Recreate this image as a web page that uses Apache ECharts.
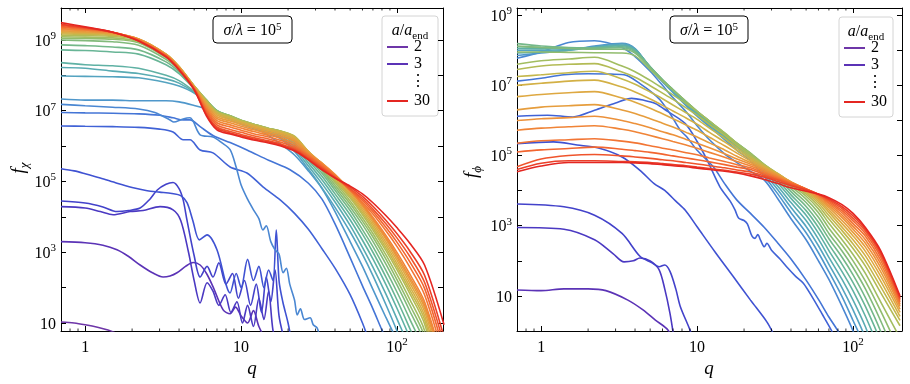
<!DOCTYPE html>
<html>
<head>
<meta charset="utf-8">
<script src="https://cdn.jsdelivr.net/npm/echarts@6/dist/echarts.min.js"></script>
<style>
html, body { margin: 0; padding: 0; background: #fff; }
#chart { width: 910px; height: 384px; }
</style>
</head>
<body>
<div id="chart"></div>
<script>
// shared q grid for the smooth curves
const qGrid = [0.7, 1, 1.5, 2.2, 3.3, 4, 5, 6, 7, 8.5, 10, 12, 15, 18, 22, 27, 33, 40, 50, 60, 70, 85, 100, 120, 150, 200];

// left panel, log10 f_chi. early times as [q, log10 f] pairs
const chi2 = [[0.7,1.03],[0.85,1.0],[1,0.95],[1.2,0.88],[1.4,0.8],[1.6,0.7],[1.8,0.55]];
const chi3 = [[0.7,3.3],[1,3.27],[1.3,3.2],[1.6,3.07],[1.9,2.88],[2.25,2.64],[2.7,2.42],[3.16,2.3],[3.5,2.33],[3.88,2.42],[4.4,2.6],[4.93,2.71],[5.46,2.64],[6,2.4],[6.6,2.03],[7.67,1.37],[8.5,1.26],[9.2,1.45],[10,1.2],[11,1.0],[12,1.35],[13,0.9],[14.5,0.5]];
const chi4 = [[0.7,4.29],[1,4.25],[1.25,4.15],[1.51,4.06],[1.94,4.15],[2.35,4.18],[3.02,4.29],[3.66,4.2],[4.1,3.9],[4.6,3.0],[5.0,2.2],[5.46,1.57],[6.05,2.14],[6.6,1.9],[7.2,1.5],[7.9,1.8],[8.6,1.3],[9.4,1.6],[10.2,1.0],[11,1.5],[12,0.9],[13,1.7],[14,1.1],[15,1.9],[16,0.8],[17,0.5]];
const chi5 = [[0.7,4.45],[1,4.39],[1.3,4.28],[1.6,4.15],[1.9,4.18],[2.25,4.25],[2.6,4.5],[2.9,4.76],[3.3,4.92],[3.66,4.97],[4.0,4.8],[4.25,4.48],[4.5,3.9],[5.0,2.9],[5.46,2.3],[6.05,2.6],[6.6,2.3],[7.2,2.7],[8,2.1],[8.8,2.4],[9.6,1.7],[10.5,2.2],[11.5,1.5],[12.5,2.1],[13.5,1.3],[14.5,2.3],[15.5,1.6],[16.5,2.5],[17.5,1.2],[19,0.5]];
const chi6 = [[0.7,5.36],[0.85,5.3],[1,5.22],[1.25,5.1],[1.6,4.95],[2,4.83],[2.5,4.74],[3,4.7],[3.6,4.66],[4.1,4.6],[4.5,4.4],[4.9,3.9],[5.4,3.35],[6.05,3.49],[7.0,3.07],[8.5,1.85],[9.3,2.4],[10,2.0],[11,2.8],[12,2.2],[13,2.6],[14,2.0],[15,2.5],[16,2.2],[16.8,3.63],[17.5,2.2],[18.5,1.6],[20,1.0],[21,0.5]];
const chi7 = [[0.7,6.57],[1,6.56],[1.5,6.55],[2.2,6.53],[3,6.48],[3.66,6.4],[4.25,6.18],[4.7,6.18],[5.46,5.89],[6.6,5.81],[8.5,5.41],[10.9,5.24],[13.8,4.85],[17.8,4.48],[22,4.1],[27,3.65],[33,3.1],[40,2.55],[50,1.8],[60,1.0],[66,0.5]];
const chi8 = [[0.7,6.95],[1,6.94],[1.5,6.93],[2.2,6.91],[3,6.87],[3.66,6.8],[4.25,6.74],[4.7,6.74],[5.46,6.55],[6.6,6.3],[8.5,6.1],[10.9,5.89],[15,5.6],[20.6,5.33],[27,4.95],[33,4.5],[40,3.8],[50,2.85],[60,2.05],[70,1.4],[80,0.8],[90,0.3]];
const chi9 = [[0.7,7.18],[1,7.14],[1.5,7.1],[2.2,7.05],[2.8,6.95],[3.5,6.74],[3.7,6.68],[4.2,6.76],[4.7,6.8],[5.46,6.32],[6.6,6.26],[7.5,6.1],[8.5,5.9],[9.3,5.4],[10,4.9],[11,4.5],[12,4.2],[13,3.95],[13.8,3.63],[14.5,3.75],[15.5,3.3],[16.5,3.07],[17.5,2.95],[18.6,2.42],[19.5,2.55],[20.5,2.1],[22,1.65],[22.9,1.23],[24,1.4],[25.5,1.1],[27.7,1.15],[29,0.95],[30.7,0.86],[32,0.6],[34,0.2]];
const chi10 = [[0.7,7.33],[1,7.3],[1.5,7.3],[2.2,7.28],[3.3,7.28],[4,7.25],[5,7.15],[6,7.05],[7,6.95],[8.5,6.85],[10,6.7],[12,6.55],[15,6.3],[18,6.05],[22,5.75],[27,5.3],[33,4.8],[40,4.15],[50,3.3],[60,2.6],[70,1.95],[85,1.15],[100,0.5]];
// later times on qGrid
const chi11 = [7.98,7.97,7.96,7.93,7.80,7.70,7.50,7.20,6.95,6.75,6.62,6.50,6.36,6.20,5.85,5.35,4.82,4.27,3.58,2.94,2.34,1.51,0.77,-0.14,-2,-3];
const chi12 = [8.22,8.20,8.12,8.05,7.90,7.78,7.52,7.22,6.97,6.78,6.65,6.52,6.38,6.24,5.92,5.44,4.94,4.42,3.76,3.14,2.58,1.81,1.11,0.26,-1.5,-3];
const chi13 = [8.36,8.30,8.27,8.20,8.00,7.85,7.55,7.25,7.00,6.80,6.67,6.55,6.42,6.29,5.98,5.52,5.05,4.54,3.92,3.34,2.81,2.08,1.41,0.61,-0.46,-3];
const chi14 = [8.72,8.70,8.66,8.60,8.30,8.05,7.62,7.28,7.00,6.83,6.70,6.58,6.45,6.34,6.04,5.60,5.15,4.65,4.06,3.51,3.00,2.29,1.65,0.87,-0.16,-3];
const chi15 = [8.86,8.84,8.80,8.72,8.38,8.10,7.65,7.30,7.00,6.85,6.72,6.60,6.48,6.37,6.10,5.66,5.23,4.75,4.18,3.64,3.16,2.48,1.87,1.13,0.14,-3];
const chi16 = [9.00,8.98,8.95,8.85,8.45,8.15,7.68,7.30,7.00,6.86,6.73,6.62,6.50,6.40,6.16,5.72,5.30,4.83,4.28,3.78,3.31,2.66,2.07,1.36,0.42,-2.5];
const chi17 = [9.05,9.04,9.02,8.92,8.50,8.20,7.70,7.30,6.99,6.86,6.73,6.62,6.50,6.42,6.22,5.77,5.35,4.90,4.37,3.88,3.43,2.80,2.22,1.53,0.61,-2];
const chi18 = [9.09,9.08,9.06,8.96,8.55,8.22,7.70,7.29,6.98,6.85,6.72,6.62,6.50,6.42,6.26,5.81,5.40,4.97,4.45,3.97,3.53,2.92,2.36,1.69,0.79,-1.5];
const chi19 = [9.13,9.12,9.10,9.00,8.58,8.24,7.70,7.28,6.97,6.84,6.72,6.62,6.50,6.42,6.28,5.84,5.44,5.02,4.53,4.06,3.63,3.04,2.50,1.85,0.98,-1.2];
const chi20 = [9.17,9.16,9.13,9.02,8.60,8.25,7.70,7.26,6.95,6.82,6.70,6.60,6.49,6.41,6.27,5.85,5.46,5.06,4.58,4.12,3.70,3.12,2.59,1.95,1.10,-1.0];
const chi21 = [9.20,9.19,9.15,9.03,8.60,8.25,7.69,7.23,6.92,6.79,6.68,6.58,6.47,6.39,6.25,5.85,5.49,5.10,4.63,4.18,3.77,3.20,2.68,2.05,1.21,-0.8];
const chi22 = [9.23,9.21,9.17,9.03,8.60,8.24,7.68,7.20,6.88,6.75,6.65,6.55,6.44,6.36,6.22,5.84,5.51,5.14,4.68,4.24,3.84,3.28,2.77,2.15,1.33,-0.6];
const chi23 = [9.26,9.23,9.19,9.03,8.59,8.23,7.67,7.16,6.83,6.71,6.61,6.51,6.40,6.32,6.18,5.82,5.52,5.18,4.73,4.30,3.90,3.36,2.85,2.24,1.43,-0.4];
const chi24 = [9.29,9.26,9.20,9.02,8.58,8.22,7.66,7.12,6.78,6.66,6.56,6.46,6.36,6.27,6.13,5.80,5.52,5.20,4.76,4.34,3.94,3.41,2.91,2.31,1.51,-0.3];
const chi25 = [9.32,9.28,9.21,9.01,8.57,8.21,7.65,7.07,6.72,6.60,6.51,6.41,6.31,6.22,6.07,5.77,5.50,5.18,4.75,4.36,3.99,3.47,2.99,2.40,1.60,-0.2];
const chi26 = [9.35,9.30,9.22,9.00,8.56,8.20,7.64,7.02,6.66,6.54,6.45,6.35,6.26,6.16,6.01,5.74,5.47,5.16,4.76,4.41,4.08,3.60,3.16,2.60,1.80,0.0];
const chi27 = [9.38,9.32,9.22,8.99,8.55,8.18,7.62,6.97,6.60,6.47,6.39,6.29,6.20,6.11,5.96,5.71,5.43,5.14,4.77,4.47,4.15,3.70,3.28,2.75,1.98,0.2];
const chi28 = [9.41,9.34,9.22,8.98,8.54,8.17,7.61,6.92,6.54,6.41,6.33,6.24,6.15,6.06,5.92,5.67,5.39,5.12,4.80,4.52,4.22,3.80,3.40,2.90,2.15,0.4];
const chi29 = [9.44,9.35,9.22,8.98,8.53,8.16,7.60,6.88,6.50,6.37,6.29,6.20,6.12,6.03,5.89,5.64,5.36,5.10,4.84,4.58,4.30,3.90,3.52,3.05,2.35,0.6];
const chi30 = [9.49,9.37,9.22,8.97,8.52,8.15,7.59,6.85,6.46,6.34,6.26,6.17,6.09,6.00,5.86,5.61,5.33,5.10,4.87,4.65,4.40,4.03,3.69,3.27,2.64,0.95];

// right panel, log10 f_phi (a = 2 stays below the axis)
const phi3 = [[0.7,1.17],[1,1.15],[1.4,1.2],[2,1.2],[2.6,1.15],[3.6,0.88],[4.5,0.6],[5.4,0.31],[6.5,0.03],[7.5,-0.5]];
const phi4 = [[0.7,2.95],[1.4,2.9],[2.2,2.6],[2.9,2.2],[3.4,1.97],[3.9,2.0],[4.3,2.08],[5,2.0],[5.7,1.75],[6.2,1.2],[6.7,0.5],[7.1,-0.2]];
const phi5 = [[0.7,3.62],[1.4,3.54],[2.2,3.3],[3.3,2.78],[4.3,2.13],[5.1,1.95],[5.7,1.83],[6.2,1.88],[6.7,1.7],[7.3,1.2],[7.8,0.7],[9,0.03],[9.5,-0.3]];
const phi6 = [[0.7,5.34],[1.2,5.39],[1.7,5.3],[2.3,5.22],[3.3,4.96],[4.3,4.58],[5.3,4.2],[6.2,4.01],[7.3,3.7],[8.4,3.44],[10,2.97],[13,2.26],[17,1.56],[22,0.88],[28,0.26],[31,-0.1]];
const phi7 = [[0.7,6.12],[1.1,6.15],[1.6,6.1],[2.2,6.29],[3,6.5],[3.8,6.63],[4.5,6.58],[5.4,6.48],[6.5,6.25],[8.4,5.91],[10,5.4],[11.6,4.87],[14,4.11],[16.3,3.7],[17.5,3.45],[18.5,3.21],[20,3.15],[21,3.05],[22.5,2.7],[23.5,2.64],[24.5,2.75],[25.5,2.59],[27,2.4],[28,2.5],[30,2.3],[34,2.05],[38,1.8],[43,1.55],[48,1.36],[55,0.95],[63,0.5],[73,0.0],[80,-0.4]];
const phi8 = [[0.7,7.12],[1,7.2],[1.4,7.3],[2,7.33],[2.8,7.32],[3.5,7.29],[4.3,7.05],[5.2,6.78],[5.8,6.58],[6.8,6.15],[7.8,5.72],[8.6,5.53],[10,5.15],[12.7,4.68],[15,4.2],[18,3.73],[22,3.35],[27,2.95],[33,2.5],[40,2.05],[50,1.45],[60,0.9],[70,0.4],[80,0.0],[90,-0.4]];
const phi9 = [7.77,7.95,8.22,8.27,8.08,7.82,7.4,7.0,6.65,6.25,5.85,5.45,5.05,4.8,4.55,4.3,3.76,3.2,2.6,2.0,1.47,0.7,0.0,-1,-2,-2];
const phi10 = [7.85,7.92,8.0,8.12,8.2,8.05,7.5,7.1,6.8,6.42,6.12,5.82,5.45,5.15,4.85,4.4,3.9,3.37,2.8,2.23,1.69,0.98,0.3,-0.5,-2,-2];
const phi11 = [8.0,8.0,8.02,8.1,8.18,8.04,7.5,7.12,6.82,6.45,6.16,5.86,5.5,5.22,4.92,4.48,4.02,3.52,2.98,2.43,1.9,1.23,0.6,-0.2,-1.5,-2];
const phi12 = [7.92,7.95,8.0,8.08,8.15,8.02,7.52,7.14,6.84,6.48,6.19,5.9,5.54,5.26,4.97,4.55,4.12,3.66,3.15,2.62,2.1,1.47,0.88,0.12,-1,-2];
const phi13 = [8.05,8.04,8.05,8.08,8.13,8.0,7.53,7.15,6.86,6.5,6.22,5.93,5.57,5.3,5.0,4.61,4.21,3.78,3.3,2.79,2.29,1.69,1.14,0.42,-0.6,-2];
const phi14 = [8.1,8.08,8.07,8.07,8.1,7.98,7.53,7.16,6.87,6.52,6.24,5.95,5.6,5.32,5.03,4.66,4.29,3.88,3.43,2.95,2.47,1.9,1.38,0.7,-0.3,-2];
const phi15 = [8.19,8.12,8.08,8.06,8.07,7.95,7.52,7.16,6.88,6.53,6.25,5.97,5.62,5.34,5.05,4.7,4.36,3.97,3.55,3.1,2.63,2.1,1.6,0.95,0.0,-1.5];
const phi16 = [8.12,8.08,8.05,8.03,8.03,7.92,7.5,7.15,6.88,6.54,6.26,5.98,5.63,5.35,5.06,4.73,4.41,4.05,3.66,3.24,2.78,2.28,1.81,1.2,0.3,-1];
const phi17 = [7.95,7.95,7.94,7.93,7.92,7.84,7.45,7.12,6.86,6.54,6.26,5.98,5.63,5.35,5.07,4.74,4.45,4.12,3.76,3.37,2.93,2.45,2.0,1.42,0.58,-0.6];
const phi18 = [7.6,7.7,7.75,7.8,7.55,7.39,7.14,6.92,6.73,6.48,6.26,5.98,5.65,5.35,5.05,4.74,4.47,4.17,3.84,3.48,3.07,2.6,2.18,1.64,0.84,-0.2];
const phi19 = [7.45,7.55,7.6,7.62,7.38,7.23,6.99,6.78,6.6,6.36,6.15,5.89,5.58,5.29,5.0,4.73,4.48,4.21,3.9,3.57,3.19,2.75,2.35,1.85,1.1,0.15];
const phi20 = [7.25,7.3,7.36,7.4,7.18,7.03,6.81,6.62,6.44,6.22,6.03,5.78,5.49,5.22,4.95,4.71,4.48,4.23,3.94,3.64,3.29,2.86,2.48,2.0,1.27,0.3];
const phi21 = [7.0,7.06,7.12,7.15,6.95,6.81,6.61,6.43,6.27,6.07,5.89,5.66,5.39,5.15,4.9,4.68,4.47,4.24,3.98,3.7,3.38,2.96,2.6,2.14,1.43,0.42];
const phi22 = [6.68,6.74,6.79,6.82,6.64,6.52,6.35,6.19,6.05,5.87,5.72,5.52,5.28,5.07,4.85,4.65,4.46,4.25,4.01,3.75,3.45,3.06,2.71,2.27,1.57,0.53];
const phi23 = [6.3,6.38,6.42,6.45,6.3,6.2,6.05,5.92,5.81,5.66,5.53,5.36,5.16,4.98,4.8,4.62,4.44,4.25,4.03,3.79,3.52,3.15,2.81,2.39,1.7,0.62];
const phi24 = [6.0,6.05,6.08,6.12,6.0,5.91,5.79,5.68,5.59,5.46,5.35,5.22,5.05,4.9,4.75,4.58,4.42,4.24,4.04,3.82,3.57,3.23,2.9,2.5,1.82,0.7];
const phi25 = [5.72,5.78,5.82,5.85,5.75,5.68,5.57,5.48,5.4,5.3,5.21,5.09,4.95,4.83,4.7,4.54,4.39,4.23,4.05,3.85,3.62,3.3,2.98,2.6,1.93,0.76];
const phi26 = [5.35,5.42,5.45,5.48,5.41,5.36,5.28,5.21,5.16,5.08,5.02,4.93,4.83,4.74,4.65,4.5,4.36,4.22,4.05,3.87,3.66,3.37,3.06,2.7,2.03,0.82];
const phi27 = [5.1,5.16,5.2,5.24,5.18,5.14,5.09,5.04,4.99,4.93,4.88,4.82,4.74,4.67,4.6,4.46,4.33,4.2,4.05,3.89,3.7,3.43,3.14,2.78,2.12,0.87];
const phi28 = [4.68,4.9,5.0,5.03,4.99,4.96,4.92,4.88,4.85,4.8,4.76,4.71,4.65,4.59,4.53,4.42,4.3,4.17,4.04,3.9,3.73,3.49,3.21,2.85,2.19,0.91];
const phi29 = [4.6,4.78,4.85,4.85,4.83,4.82,4.8,4.77,4.74,4.71,4.67,4.63,4.58,4.53,4.47,4.38,4.26,4.14,4.02,3.9,3.76,3.54,3.28,2.9,2.25,0.95];
const phi30 = [4.54,4.7,4.8,4.8,4.8,4.79,4.77,4.74,4.71,4.68,4.64,4.6,4.55,4.5,4.42,4.32,4.2,4.08,3.98,3.9,3.8,3.6,3.35,2.95,2.3,1.0];

// one colour per a/a_end = 2 ... 30
const curveColors = ['#6e36a8','#5b33b6','#4b39c2','#4342ca','#3f52d2','#4062d6','#4475d6','#4a87d2','#4f97cb','#54a3c0',
  '#59abb2','#5fb1a4','#68b596','#74b889','#82ba7b','#91bc6d','#a2bd60','#b3bb55','#c4b74c','#d3b045',
  '#dea841','#e69d3d','#ec913a','#f08437','#f27534','#f26530','#ef542c','#eb3f28','#e42621'];
const legendLabels = ['2', '3', '30'];
const minorTickQ = [0.8, 0.9, 2, 3, 4, 5, 6, 7, 8, 9, 20, 30, 40, 50, 60, 70, 80, 90];

const chiCurves = [chi2,chi3,chi4,chi5,chi6,chi7,chi8,chi9,chi10,chi11,chi12,chi13,chi14,chi15,chi16,
  chi17,chi18,chi19,chi20,chi21,chi22,chi23,chi24,chi25,chi26,chi27,chi28,chi29,chi30];
const phiCurves = [phi3,phi4,phi5,phi6,phi7,phi8,phi9,phi10,phi11,phi12,phi13,phi14,phi15,phi16,
  phi17,phi18,phi19,phi20,phi21,phi22,phi23,phi24,phi25,phi26,phi27,phi28,phi29,phi30];

const serif = "'Liberation Serif', 'DejaVu Serif', serif";

function toPoints(curve) {
  if (Array.isArray(curve[0])) return curve.map(p => [p[0], Math.pow(10, p[1])]);
  return curve.map((v, i) => [qGrid[i], Math.pow(10, v)]);
}

function lineSeries(curve, panel, color) {
  return {
    type: 'line', xAxisIndex: panel * 2, yAxisIndex: panel * 2,
    data: toPoints(curve), showSymbol: false, symbol: 'none',
    smooth: 0.3, silent: true,
    lineStyle: { color: color, width: 1.6 }
  };
}

const labelRich = {
  b: { fontFamily: serif, fontSize: 16, color: '#000', verticalAlign: 'bottom', lineHeight: 19 },
  s: { fontFamily: serif, fontSize: 11, color: '#000', verticalAlign: 'top', lineHeight: 19 }
};

function decadeLabel(v, oddOnly) {
  const l = Math.log10(v), e = Math.round(l);
  if (Math.abs(l - e) > 1e-6) return '';
  if (oddOnly && Math.abs(e % 2) !== 1) return '';
  if (e === 0) return '{b|1}';
  if (e === 1) return '{b|10}';
  return '{b|10}{s|' + e + '}';
}

function xAxisDef(grid, max, pos) {
  return {
    gridIndex: grid, type: 'log', min: 0.7, max: max, position: pos,
    axisLine: { show: true, onZero: false, lineStyle: { color: '#000', width: 1 } },
    axisTick: { show: true, inside: true, length: 5, lineStyle: { color: '#000', width: 1 } },
    axisLabel: { show: pos === 'bottom', margin: 6, formatter: v => decadeLabel(v, false), rich: labelRich },
    splitLine: { show: false }
  };
}
function yAxisDef(grid, min, max, pos) {
  return {
    gridIndex: grid, type: 'log', min: min, max: max, position: pos,
    axisLine: { show: true, onZero: false, lineStyle: { color: '#000', width: 1 } },
    axisTick: { show: true, inside: true, length: 5, lineStyle: { color: '#000', width: 1 } },
    axisLabel: { show: pos === 'left', margin: 5, formatter: v => decadeLabel(v, true), rich: labelRich },
    splitLine: { show: false }
  };
}

function minorTicks(params, api) {
  const cs = params.coordSys;
  const x = api.coord([api.value(0), api.value(1)])[0];
  const yb = cs.y + cs.height, yt = cs.y;
  return {
    type: 'group', children: [
      { type: 'line', shape: { x1: x, y1: yb, x2: x, y2: yb - 2.5 }, style: { stroke: '#000', lineWidth: 0.8 } },
      { type: 'line', shape: { x1: x, y1: yt, x2: x, y2: yt + 2.5 }, style: { stroke: '#000', lineWidth: 0.8 } }
    ]
  };
}

const series = [];
chiCurves.forEach((c, i) => series.push(lineSeries(c, 0, curveColors[i])));
phiCurves.forEach((c, i) => series.push(lineSeries(c, 1, curveColors[i + 1])));
[0, 1].forEach(p => series.push({
  type: 'custom', xAxisIndex: p * 2, yAxisIndex: p * 2, silent: true, z: 5,
  renderItem: minorTicks, data: minorTickQ.map(q => [q, 1000])
}));

const mathRich = {
  i: { fontFamily: serif, fontStyle: 'italic', fontSize: 16, color: '#000' },
  n: { fontFamily: serif, fontSize: 16, color: '#000' },
  s: { fontFamily: serif, fontSize: 11, color: '#000', verticalAlign: 'top', lineHeight: 18 },
  sub: { fontFamily: serif, fontSize: 11, color: '#000', verticalAlign: 'bottom', lineHeight: 22 }
};

function paramBox(x, y, w, h) {
  return {
    type: 'group', x: x, y: y, children: [
      { type: 'rect', shape: { x: 0, y: 0, width: w, height: h, r: 4 }, style: { fill: '#fff', stroke: '#000', lineWidth: 1 } },
      { type: 'text', x: w / 2, y: h / 2 + 1, style: { text: '{i|σ}{n|/}{i|λ}{n| = 10}{s|5}', rich: mathRich, align: 'center', verticalAlign: 'middle' } }
    ]
  };
}

function legendBox(x, y, w, h) {
  const rows = [17, 34, 52, 71];
  const kids = [
    { type: 'rect', shape: { x: 0, y: 0, width: w, height: h, r: 3 }, style: { fill: 'rgba(255,255,255,0.85)', stroke: '#d4d4d4', lineWidth: 1 } },
    { type: 'text', x: w / 2, y: 15, style: { text: '{i|a}{n|/}{i|a}{sub|end}', rich: mathRich, align: 'center', verticalAlign: 'middle' } }
  ];
  const cols = [curveColors[0], curveColors[1], null, curveColors[28]];
  const texts = [legendLabels[0], legendLabels[1], '⋮', legendLabels[2]];
  rows.forEach((ry, k) => {
    const yy = ry + 14;
    if (cols[k]) kids.push({ type: 'line', shape: { x1: 5, y1: yy, x2: 26, y2: yy }, style: { stroke: cols[k], lineWidth: 2 } });
    kids.push({ type: 'text', x: cols[k] ? 32 : 35.5, y: yy, style: { text: texts[k], font: '16px ' + serif, fill: '#000', align: cols[k] ? 'left' : 'center', verticalAlign: 'middle' } });
  });
  return { type: 'group', x: x, y: y, children: kids };
}

const nameRich = {
  f: { fontFamily: serif, fontStyle: 'italic', fontSize: 19, color: '#000' },
  sub: { fontFamily: serif, fontStyle: 'italic', fontSize: 13, color: '#000', verticalAlign: 'bottom', lineHeight: 25 }
};

const option = {
  animation: false,
  backgroundColor: '#fff',
  grid: [
    { left: 61, top: 8, width: 382, height: 323 },
    { left: 517, top: 8, width: 385, height: 323 }
  ],
  xAxis: [xAxisDef(0, 197, 'bottom'), xAxisDef(0, 197, 'top'), xAxisDef(1, 206, 'bottom'), xAxisDef(1, 206, 'top')],
  yAxis: [yAxisDef(0, 5.95, 8e9, 'left'), yAxisDef(0, 5.95, 8e9, 'right'), yAxisDef(1, 1, 1.6e9, 'left'), yAxisDef(1, 1, 1.6e9, 'right')],
  series: series,
  graphic: [
    paramBox(213, 16, 79, 27),
    paramBox(670, 16, 78, 27),
    legendBox(382, 16, 56, 100),
    legendBox(839, 17, 54, 100),
    { type: 'text', x: 252, y: 369, style: { text: 'q', font: 'italic 19px ' + serif, fill: '#000', align: 'center', verticalAlign: 'middle' } },
    { type: 'text', x: 709, y: 369, style: { text: 'q', font: 'italic 19px ' + serif, fill: '#000', align: 'center', verticalAlign: 'middle' } },
    { type: 'text', x: 19, y: 168, rotation: Math.PI / 2, style: { text: '{f|f}{sub|χ}', rich: nameRich, align: 'center', verticalAlign: 'middle' } },
    { type: 'text', x: 472, y: 172, rotation: Math.PI / 2, style: { text: '{f|f}{sub|ϕ}', rich: nameRich, align: 'center', verticalAlign: 'middle' } }
  ]
};

const chart = echarts.init(document.getElementById('chart'), null, { renderer: 'canvas' });
chart.setOption(option);
</script>
</body>
</html>
